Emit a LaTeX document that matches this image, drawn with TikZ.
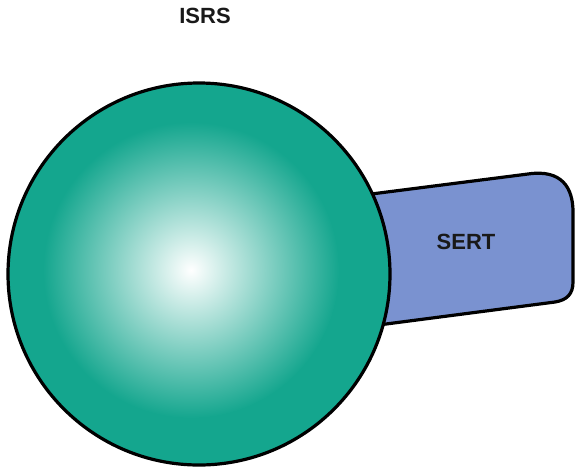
\documentclass[tikz,border=0pt]{standalone}
\usepackage{fontspec}
\setmainfont{Liberation Sans}
\definecolor{ballteal}{RGB}{20,166,142}
\definecolor{sertblue}{RGB}{122,146,208}
\tikzset{
  outline/.style={draw=black, line width=3.2pt, line join=round},
  label/.style={font=\bfseries\fontsize{22}{22}\selectfont, text=black!90, inner sep=0pt}
}
\begin{document}
\begin{tikzpicture}[x=1pt,y=-1pt]
\useasboundingbox (0,0) rectangle (577,472);
% SERT tab (drawn first, partly hidden by the ball)
\draw[outline, fill=sertblue]
  (340,198) -- (528,174)
  .. controls (562,169) and (573,188) .. (573,212)
  -- (573,282)
  .. controls (573,294) and (567,300) .. (555,302)
  -- (340,330) -- cycle;
% ball
\fill[ballteal] (199,274) circle (191);
\shade[inner color=white, outer color=ballteal] (191,270) circle (148);
\draw[outline] (199,274) circle (191);
% labels
\node[label] (isrs) at (205,16) {ISRS};
\node[label] (sert) at (466,242) {SERT};
\end{tikzpicture}
\end{document}
